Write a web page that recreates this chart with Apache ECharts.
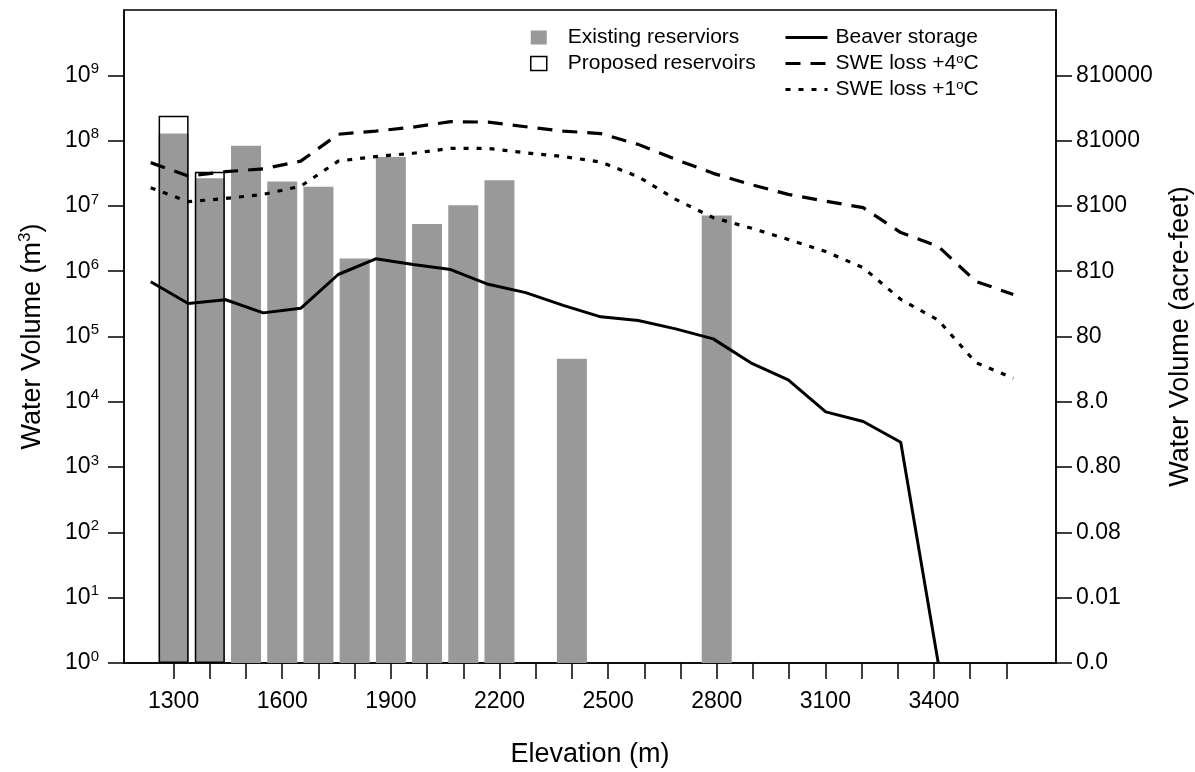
<!DOCTYPE html>
<html><head><meta charset="utf-8">
<script src="https://cdn.jsdelivr.net/npm/echarts@6/dist/echarts.min.js"></script>
<style>html,body{margin:0;padding:0;background:#fff}#c{width:1195px;height:772px}</style>
</head><body><div id="c"></div>
<script>
// ---- data ----
const elevations = [1300,1400,1500,1600,1700,1800,1900,2000,2100,2200,2300,2400,2500,2600,2700,2800,2900,3000,3100,3200,3300,3400,3500,3600];
const xTickLabels = [1300,1600,1900,2200,2500,2800,3100,3400];
const existingReservoirs = [1.29e8,2.64e7,8.36e7,2.37e7,1.97e7,1.57e6,5.6e7,5.3e6,1.02e7,2.48e7,null,4.55e4,null,null,null,7.15e6,null,null,null,null,null,null,null,null];
const proposedReservoirs = [2.41e8,3.34e7,null,null,null,null,null,null,null,null,null,null,null,null,null,null,null,null,null,null,null,null,null,null];
const beaverStorage = [6.9e5,3.2e5,3.65e5,2.3e5,2.7e5,8.9e5,1.55e6,1.27e6,1.06e6,6.3e5,4.7e5,3.0e5,2.0e5,1.76e5,1.31e5,9.2e4,3.95e4,2.17e4,7.0e3,5.0e3,2.4e3,1,null,null];
const sweLoss4 = [4.6e7,2.86e7,3.34e7,3.7e7,4.85e7,1.25e8,1.4e8,1.61e8,1.95e8,1.92e8,1.63e8,1.4e8,1.28e8,8.75e7,5.15e7,3.15e7,2.13e7,1.5e7,1.18e7,9.4e6,3.9e6,2.4e6,7.0e5,4.4e5];
const sweLoss1 = [1.9e7,1.16e7,1.3e7,1.5e7,2.0e7,4.85e7,5.7e7,6.4e7,7.6e7,7.6e7,6.5e7,5.7e7,4.7e7,2.8e7,1.26e7,6.6e6,4.6e6,3.06e6,2.0e6,1.13e6,3.7e5,1.78e5,4.0e4,2.3e4];
const yTickValues = [1,10,100,1e3,1e4,1e5,1e6,1e7,1e8,1e9];
const acreFeetLabels = ['0.0','0.01','0.08','0.80','8.0','80','810','8100','81000','810000'];

const FONT = 'Liberation Sans';
const chart = echarts.init(document.getElementById('c'));
const pair = (arr, xs) => arr.map((v, i) => [xs ? xs[i] : i, v == null ? '-' : v]);
const expOf = v => Math.round(Math.log10(v));
const supName = n => n.indexOf('°C') >= 0 ? '{t|' + n.replace('°C', '') + '}{s|o}{t|C}' : '{t|' + n + '}';
const legendRich = { t: { fontSize: 21, fontFamily: FONT, color: '#000' }, s: { fontSize: 13, fontFamily: FONT, color: '#000', verticalAlign: 'top', lineHeight: 14 } };
const axisBlack = { show: true, onZero: false, lineStyle: { color: '#000', width: 1.5 } };
const hiddenSym = { color: 'rgba(0,0,0,0)', borderWidth: 0 };

chart.setOption({
  animation: false,
  backgroundColor: '#fff',
  textStyle: { fontFamily: FONT, color: '#000' },
  grid: { left: 124, right: 139, top: 10, bottom: 109, show: true, borderColor: '#000', borderWidth: 1.5, containLabel: false, outerBoundsMode: 'none' },
  legend: [
    { data: [{ name: 'Existing reserviors' }, { name: 'Proposed reservoirs', itemStyle: { color: '#fff', borderColor: '#000', borderWidth: 1.5 } }],
      orient: 'vertical', left: 525, top: 22, itemWidth: 16, itemHeight: 14, itemGap: 5, icon: 'rect',
      formatter: supName, textStyle: { fontSize: 21, fontFamily: FONT, color: '#000', padding: [0, 0, 0, 16], rich: legendRich } },
    { data: [{ name: 'Beaver storage', itemStyle: hiddenSym }, { name: 'SWE loss +4°C', itemStyle: hiddenSym }, { name: 'SWE loss +1°C', itemStyle: hiddenSym }],
      orient: 'vertical', left: 779, top: 22, itemWidth: 42, itemHeight: 14, itemGap: 5,
      lineStyle: { width: 3 },
      formatter: supName, textStyle: { fontSize: 21, fontFamily: FONT, color: '#000', padding: [0, 0, 0, 3], rich: legendRich } }
  ],
  xAxis: [
    { type: 'value', min: 1163, max: 3737, position: 'bottom',
      axisLine: axisBlack, splitLine: { show: false },
      axisTick: { show: true, length: 16, customValues: elevations, lineStyle: { color: '#000', width: 1.5 } },
      axisLabel: { customValues: xTickLabels, margin: 27, fontSize: 23, fontFamily: FONT, color: '#000', formatter: v => String(v) },
      name: 'Elevation (m)', nameLocation: 'middle', nameGap: 78,
      nameTextStyle: { fontSize: 27, fontFamily: FONT, color: '#000' } },
    { type: 'value', min: -0.712, max: 24.14, show: false }
  ],
  yAxis: [
    { type: 'log', logBase: 10, min: 1, max: 1e10, position: 'left',
      axisLine: axisBlack, splitLine: { show: false },
      axisTick: { show: true, length: 16, customValues: yTickValues, lineStyle: { color: '#000', width: 1.5 } },
      axisLabel: { customValues: yTickValues, margin: 25, formatter: v => '{b|10}{s|' + expOf(v) + '}',
        rich: { b: { fontSize: 23, fontFamily: FONT, color: '#000', lineHeight: 28 }, s: { fontSize: 15, fontFamily: FONT, color: '#000', verticalAlign: 'top', lineHeight: 16 } } },
      name: '{a|Water Volume (m}{s|3}{a|)}', nameLocation: 'middle', nameGap: 75, nameRotate: 90,
      nameTextStyle: { rich: { a: { fontSize: 27, fontFamily: FONT, color: '#000', lineHeight: 32 }, s: { fontSize: 17, fontFamily: FONT, color: '#000', verticalAlign: 'top', lineHeight: 18 } } } },
    { type: 'log', logBase: 10, min: 1, max: 1e10, position: 'right',
      axisLine: axisBlack, splitLine: { show: false },
      axisTick: { show: true, length: 16, customValues: yTickValues, lineStyle: { color: '#000', width: 1.5 } },
      axisLabel: { customValues: yTickValues, margin: 20, fontSize: 23, fontFamily: FONT, color: '#000',
        formatter: v => acreFeetLabels[expOf(v)] || '' },
      name: 'Water Volume (acre-feet)', nameLocation: 'middle', nameGap: 111, nameRotate: 90,
      nameTextStyle: { fontSize: 27, fontFamily: FONT, color: '#000' } }
  ],
  series: [
    { name: 'Existing reserviors', type: 'bar', xAxisIndex: 0, yAxisIndex: 0, barWidth: 30,
      data: pair(existingReservoirs, elevations), itemStyle: { color: '#999999' }, z: 2 },
    { name: 'Proposed reservoirs', type: 'bar', xAxisIndex: 0, yAxisIndex: 0, barWidth: 30, barGap: '-100%',
      data: pair(proposedReservoirs, elevations), itemStyle: { color: 'rgba(0,0,0,0)', borderColor: '#000', borderWidth: 1.5 }, z: 3 },
    { name: 'Beaver storage', type: 'line', xAxisIndex: 1, yAxisIndex: 0, symbol: 'none', z: 4,
      data: pair(beaverStorage), lineStyle: { color: '#000', width: 3 }, itemStyle: { color: '#000' } },
    { name: 'SWE loss +4°C', type: 'line', xAxisIndex: 1, yAxisIndex: 0, symbol: 'none', z: 4,
      data: pair(sweLoss4), lineStyle: { color: '#000', width: 3.2, type: [15, 10] }, itemStyle: { color: '#000' } },
    { name: 'SWE loss +1°C', type: 'line', xAxisIndex: 1, yAxisIndex: 0, symbol: 'none', z: 4,
      data: pair(sweLoss1), lineStyle: { color: '#000', width: 3.2, type: [5, 8] }, itemStyle: { color: '#000' } }
  ]
});
</script></body></html>
